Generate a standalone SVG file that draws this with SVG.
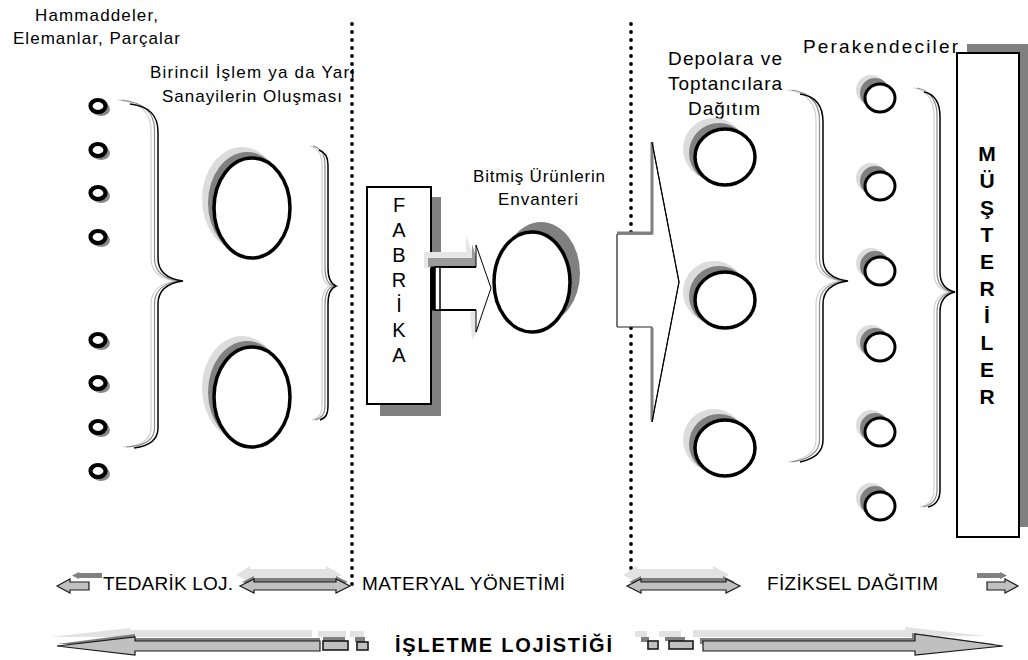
<svg xmlns="http://www.w3.org/2000/svg" width="1028" height="660" viewBox="0 0 1028 660">
<style>
.t{font-family:"Liberation Sans",Arial,sans-serif;fill:#000}
.lbl{font-size:17px}
.lbl2{font-size:19px}
.bot{font-size:19px}
.vert{font-size:20px;text-anchor:middle}
.vertb{font-size:21px;font-weight:bold;text-anchor:middle}
.dots{stroke:#000;stroke-width:3.8;stroke-linecap:round;stroke-dasharray:0 8;fill:none}
.ring{fill:#fff;stroke:#000;stroke-width:3.5}
.sd{fill:#808080}
.sl{fill:#dcdcdc}
.br{fill:none;stroke:#000;stroke-width:1.5}
.br2{fill:none;stroke:#8a8a8a;stroke-width:1.2}
.br3{fill:none;stroke:#d0d0d0;stroke-width:1.2}
.arr{fill:#c0c0c0;stroke:#1a1a1a;stroke-width:1.2}
.ad{fill:#808080}
.al{fill:#e2e2e2}
</style>
<rect width="1028" height="660" fill="#fff"/>

<g id="dividers">
<line class="dots" x1="352" y1="24" x2="352" y2="586"/>
<line class="dots" x1="631" y1="24" x2="631" y2="574"/>
</g>

<g id="raw-materials">
<text class="t lbl" x="35" y="21" textLength="123" lengthAdjust="spacing">Hammaddeler,</text>
<text class="t lbl" x="13" y="44" textLength="167" lengthAdjust="spacing">Elemanlar, Parçalar</text>
<g fill="#888">
<ellipse cx="101" cy="109" rx="9" ry="7"/><ellipse cx="101" cy="153" rx="9" ry="7"/>
<ellipse cx="101" cy="196" rx="9" ry="7"/><ellipse cx="101" cy="240" rx="9" ry="7"/>
<ellipse cx="101" cy="343" rx="9" ry="7"/><ellipse cx="101" cy="386" rx="9" ry="7"/>
<ellipse cx="101" cy="430" rx="9" ry="7"/><ellipse cx="101" cy="474" rx="9" ry="7"/>
</g>
<g class="ring" style="stroke-width:4.2">
<ellipse cx="98" cy="106" rx="7.5" ry="6"/><ellipse cx="98" cy="150" rx="7.5" ry="6"/>
<ellipse cx="98" cy="193" rx="7.5" ry="6"/><ellipse cx="98" cy="237" rx="7.5" ry="6"/>
<ellipse cx="98" cy="340" rx="7.5" ry="6"/><ellipse cx="98" cy="383" rx="7.5" ry="6"/>
<ellipse cx="98" cy="427" rx="7.5" ry="6"/><ellipse cx="98" cy="471" rx="7.5" ry="6"/>
</g>
</g>

<g id="brace-left">
<path class="br3" transform="translate(-7,0)" d="M125,100 C145,102 158,110 158,130 L158,258 C158,272 168,279 183,281 C168,283 158,290 158,304 L158,428 C158,440 148,446 130,447"/>
<path class="br2" transform="translate(-3.5,0)" d="M125,100 C145,102 158,110 158,130 L158,258 C158,272 168,279 183,281 C168,283 158,290 158,304 L158,428 C158,440 148,446 130,447"/>
<path class="br" d="M130,104 C148,106 158,114 158,132 L158,258 C158,272 168,279 183,281 C168,283 158,290 158,304 L158,428 C158,440 150,446 134,448"/>
</g>

<g id="primary-processing">
<text class="t lbl" x="150" y="78" textLength="205" lengthAdjust="spacing">Birincil İşlem ya da Yarı</text>
<text class="t lbl" x="162" y="102" textLength="180" lengthAdjust="spacing">Sanayilerin Oluşması</text>
<ellipse class="sl" cx="242" cy="199" rx="40" ry="52"/>
<ellipse class="sd" cx="247" cy="203" rx="39" ry="51"/>
<ellipse class="ring" cx="252" cy="208" rx="38" ry="50"/>
<ellipse class="sl" cx="242" cy="388" rx="40" ry="52"/>
<ellipse class="sd" cx="247" cy="392" rx="39" ry="51"/>
<ellipse class="ring" cx="252" cy="397" rx="38" ry="50"/>
</g>

<g id="brace-left2">
<path class="br3" transform="translate(-6,0)" d="M316,146 C324,148 328,155 328,165 L328,268 C328,278 331,284 336,286 C331,288 328,294 328,304 L328,405 C328,414 325,418 318,420"/>
<path class="br2" transform="translate(-3,0)" d="M316,146 C324,148 328,155 328,165 L328,268 C328,278 331,284 336,286 C331,288 328,294 328,304 L328,405 C328,414 325,418 318,420"/>
<path class="br" d="M319,150 C325,152 328,157 328,165 L328,268 C328,278 331,284 336,286 C331,288 328,294 328,304 L328,405 C328,414 326,418 320,420"/>
</g>

<g id="fabrika">
<rect x="380" y="197" width="61" height="219" fill="#808080"/>
<rect x="367" y="187" width="64" height="217" fill="#fff" stroke="#000" stroke-width="2"/>
<text class="t vert" x="399" y="212">F</text>
<text class="t vert" x="399" y="237">A</text>
<text class="t vert" x="399" y="262">B</text>
<text class="t vert" x="399" y="287">R</text>
<text class="t vert" x="399" y="312">İ</text>
<text class="t vert" x="399" y="337">K</text>
<text class="t vert" x="399" y="362">A</text>
</g>

<g id="connectors">
<polygon fill="#e6e6e6" points="424,252 466,252 466,236 478,268 424,268"/>
<polygon fill="#9a9a9a" points="428,258 472,258 472,244 478,262 478,267 428,267"/>
<polygon fill="#e6e6e6" points="470,312 478,312 480,328 472,340"/>
<polygon points="431,267 476,267 476,245 491,288 476,332 476,310 431,310" fill="#fff" stroke="#000" stroke-width="1"/>
<line x1="435" y1="267" x2="476" y2="267" stroke="#000" stroke-width="2"/>
<line x1="435" y1="310" x2="476" y2="310" stroke="#000" stroke-width="2"/>
<rect x="431" y="267" width="4" height="43" fill="#000"/>
<rect x="435" y="267" width="5" height="43" fill="#fff" stroke="#000" stroke-width="1.5"/>
<polygon points="617,234 652,234 652,142 679,282 652,422 652,327 617,327" fill="#fff" stroke="#222" stroke-width="1"/>
<polyline points="617,233 652,233 652,142" fill="none" stroke="#808080" stroke-width="3"/>
<line x1="652" y1="328" x2="652" y2="420" stroke="#808080" stroke-width="3"/>
<line x1="617" y1="234" x2="617" y2="327" stroke="#666" stroke-width="1.2"/>
<line x1="652" y1="142" x2="679" y2="282" stroke="#000" stroke-width="1.2"/>
<line x1="679" y1="282" x2="652" y2="422" stroke="#000" stroke-width="1.2"/>
</g>

<g id="inventory">
<text class="t lbl" x="473" y="182" textLength="132" lengthAdjust="spacing">Bitmiş Ürünlerin</text>
<text class="t lbl" x="498" y="205" textLength="80" lengthAdjust="spacing">Envanteri</text>
<ellipse class="sd" cx="541" cy="273" rx="39" ry="51"/>
<ellipse class="ring" cx="532" cy="282" rx="38" ry="50"/>
</g>

<g id="warehouses">
<text class="t lbl2" x="668" y="65" textLength="114" lengthAdjust="spacing">Depolara ve</text>
<text class="t lbl2" x="668" y="90" textLength="114" lengthAdjust="spacing">Toptancılara</text>
<text class="t lbl2" x="688" y="115" textLength="72" lengthAdjust="spacing">Dağıtım</text>
<circle class="sl" cx="714" cy="149" r="31"/>
<circle class="sd" cx="719" cy="153" r="30"/>
<ellipse class="ring" cx="725" cy="157" rx="30" ry="28"/>
<circle class="sl" cx="714" cy="292" r="31"/>
<circle class="sd" cx="719" cy="296" r="30"/>
<ellipse class="ring" cx="725" cy="300" rx="30" ry="28"/>
<circle class="sl" cx="714" cy="440" r="31"/>
<circle class="sd" cx="719" cy="444" r="30"/>
<ellipse class="ring" cx="725" cy="448" rx="30" ry="28"/>
</g>

<g id="brace-right1">
<path class="br3" transform="translate(-7,0)" d="M795,90 C812,92 823,102 823,120 L823,258 C823,272 833,279 848,281 C833,283 823,290 823,304 L823,440 C823,452 812,460 795,462"/>
<path class="br2" transform="translate(-3.5,0)" d="M795,90 C812,92 823,102 823,120 L823,258 C823,272 833,279 848,281 C833,283 823,290 823,304 L823,440 C823,452 812,460 795,462"/>
<path class="br" d="M800,94 C815,96 823,105 823,122 L823,258 C823,272 833,279 848,281 C833,283 823,290 823,304 L823,440 C823,452 814,459 800,462"/>
</g>

<g id="retailers">
<text class="t lbl2" x="803" y="53" style="font-size:19px" textLength="155" lengthAdjust="spacing">Perakendeciler</text>
<g class="sl">
<circle cx="871" cy="90" r="15"/><circle cx="871" cy="178" r="15"/><circle cx="871" cy="263" r="15"/>
<circle cx="871" cy="340" r="15"/><circle cx="871" cy="425" r="15"/><circle cx="871" cy="498" r="15"/>
</g>
<g class="sd">
<circle cx="875" cy="93" r="15"/><circle cx="875" cy="181" r="15"/><circle cx="875" cy="266" r="15"/>
<circle cx="875" cy="343" r="15"/><circle cx="875" cy="428" r="15"/><circle cx="875" cy="501" r="15"/>
</g>
<g class="ring" style="stroke-width:3">
<ellipse cx="880" cy="98" rx="15" ry="14"/><ellipse cx="880" cy="186" rx="15" ry="14"/>
<ellipse cx="880" cy="271" rx="15" ry="14"/><ellipse cx="880" cy="347" rx="15" ry="14"/>
<ellipse cx="880" cy="432" rx="15" ry="14"/><ellipse cx="880" cy="506" rx="15" ry="14"/>
</g>
</g>

<g id="brace-right2">
<path class="br3" transform="translate(-6,0)" d="M920,88 C932,90 940,100 940,115 L940,272 C940,284 946,290 955,292 C946,294 940,300 940,312 L940,490 C940,500 935,505 926,507"/>
<path class="br2" transform="translate(-3,0)" d="M920,88 C932,90 940,100 940,115 L940,272 C940,284 946,290 955,292 C946,294 940,300 940,312 L940,490 C940,500 935,505 926,507"/>
<path class="br" d="M924,92 C934,94 940,102 940,117 L940,272 C940,284 946,290 955,292 C946,294 940,300 940,312 L940,490 C940,500 936,505 928,507"/>
</g>

<g id="musteriler">
<rect x="967" y="44" width="62" height="483" fill="#808080"/>
<rect x="957" y="53" width="62" height="484" fill="#fff" stroke="#000" stroke-width="2"/>
<text class="t vertb" x="987" y="161">M</text>
<text class="t vertb" x="987" y="188">Ü</text>
<text class="t vertb" x="987" y="215">Ş</text>
<text class="t vertb" x="987" y="242">T</text>
<text class="t vertb" x="987" y="269">E</text>
<text class="t vertb" x="987" y="296">R</text>
<text class="t vertb" x="987" y="323">İ</text>
<text class="t vertb" x="987" y="350">L</text>
<text class="t vertb" x="987" y="377">E</text>
<text class="t vertb" x="987" y="404">R</text>
</g>

<g id="legend">
<polygon class="ad" points="72,575.5 79,572 79,573 102,573 102,578 79,578 79,579"/>
<polygon class="arr" points="57,586 70,579 70,582 89,582 89,590 70,590 70,593"/>
<text class="t bot" x="103" y="590" textLength="130" lengthAdjust="spacing">TEDARİK LOJ.</text>
<polygon class="al" points="236,575 250,566 250,569 326,569 326,566 342,575 326,582 250,582"/>
<polygon class="ad" points="242,582 254,576 254,578 336,578 336,576 348,582 336,586 254,586"/>
<polygon class="arr" points="240,586 254,579 254,582 336,582 336,579 350,586 336,593 336,590 254,590 254,593"/>
<text class="t bot" x="362" y="590" textLength="203" lengthAdjust="spacing">MATERYAL YÖNETİMİ</text>
<polygon class="al" points="623,575 637,566 637,569 713,569 713,566 729,575 713,582 637,582"/>
<polygon class="ad" points="629,582 641,576 641,578 723,578 723,576 735,582 723,586 641,586"/>
<polygon class="arr" points="627,586 641,579 641,582 726,582 726,579 740,586 726,593 726,590 641,590 641,593"/>
<text class="t bot" x="767" y="590" textLength="171" lengthAdjust="spacing">FİZİKSEL DAĞITIM</text>
<polygon class="ad" points="977,573 1000,573 1000,572 1007,575.5 1000,579 1000,578 977,578"/>
<polygon class="arr" points="987,582 1005,582 1005,579 1018,586 1005,593 1005,590 987,590"/>

<polygon class="al" points="50,637 130,628 130,630 312,630 312,637 130,637"/>
<polygon class="ad" points="57,644 135,634 135,638 320,638 320,644 135,644"/>
<polygon class="arr" points="57,646 135,637 135,641 320,641 320,651 135,651 135,655"/>
<rect x="318" y="631" width="28" height="6" fill="#e2e2e2"/>
<rect x="323" y="637" width="22" height="4" fill="#808080"/>
<rect x="323" y="641" width="25" height="9" class="arr" style="stroke-width:1.6"/>
<rect x="350" y="631" width="14" height="6" fill="#e2e2e2"/>
<rect x="355" y="637" width="10" height="5" fill="#808080"/>
<rect x="357" y="642" width="11" height="8" class="arr" style="stroke-width:1.6"/>
<text class="t" x="395" y="652" style="font-size:20px;font-weight:bold" textLength="217" lengthAdjust="spacing">İŞLETME LOJİSTİĞİ</text>
<rect x="635" y="631" width="12" height="6" fill="#e2e2e2"/>
<rect x="641" y="637" width="8" height="5" fill="#808080"/>
<rect x="648" y="641" width="10" height="8" class="arr" style="stroke-width:1.6"/>
<rect x="659" y="631" width="22" height="6" fill="#e2e2e2"/>
<rect x="665" y="637" width="20" height="4" fill="#808080"/>
<rect x="669" y="641" width="24" height="8" class="arr" style="stroke-width:1.6"/>
<polygon class="al" points="693,630 905,630 905,627 985,636 905,637 693,637"/>
<polygon class="ad" points="700,638 912,638 912,633 995,644 700,644"/>
<polygon class="arr" points="703,641 915,641 915,634 1003,646 915,655 915,651 703,651"/>
</g>
</svg>
